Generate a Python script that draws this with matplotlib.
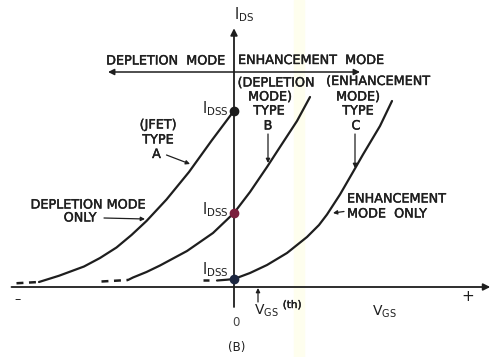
import matplotlib.pyplot as plt
import matplotlib.patheffects as pe

plt.rcParams['font.family'] = 'DejaVu Sans'
plt.rcParams['lines.scale_dashes'] = False

# drain current vs gate voltage, arbitrary units (0,0 = origin of the axes)
# type A - JFET, depletion mode only
a_vgs = [-7.8, -7.0, -6.0, -5.36, -4.7, -4.1, -3.5, -2.7, -1.8, -0.9, 0.0]
a_ids = [0.2, 0.45, 0.82, 1.16, 1.58, 2.08, 2.64, 3.5, 4.6, 5.85, 7.05]
a_tail_vgs = [-8.7, -7.8]
a_tail_ids = [0.15, 0.2]

# type B - depletion/enhancement MOSFET
b_vgs = [-4.24, -4.04, -3.5, -2.96, -1.88, -0.84, 0.0, 0.64, 1.32, 1.84, 2.52, 3.04]
b_ids = [0.28, 0.38, 0.6, 0.86, 1.44, 2.16, 2.96, 3.8, 4.8, 5.6, 6.64, 7.6]
b_tail_vgs = [-5.3, -4.24]
b_tail_ids = [0.22, 0.28]

# type C - enhancement mode only
c_vgs = [-0.68, -0.3, 0.0, 0.64, 1.32, 2.12, 2.92, 3.4, 3.72, 4.24, 4.76, 5.16, 5.84, 6.32]
c_ids = [0.26, 0.29, 0.32, 0.56, 0.88, 1.36, 2.0, 2.48, 2.9, 3.7, 4.6, 5.3, 6.44, 7.44]
c_tail_vgs = [-1.26, -1.02]
c_tail_ids = [0.27, 0.27]

# I_DSS points where each curve crosses V_GS = 0
idss_vgs = [0.0, 0.0, 0.0]
idss_ids = [7.05, 2.96, 0.32]
idss_colors = ['#1c1c1c', '#7a1f3d', '#1c2640']

ink = '#1e1e1e'

fig = plt.figure(figsize=(4.97, 3.57), dpi=100)
ax = fig.add_axes([0, 0, 1, 1])
ax.set_xlim(-9.36, 10.52)
ax.set_ylim(-2.8, 11.48)
ax.axis('off')

# faint scanner streak
ax.axvspan(2.4, 2.8, color='#fefeee', zorder=0)

arrow_kw = dict(arrowstyle='-|>', color=ink, lw=0.9, mutation_scale=6, shrinkA=0, shrinkB=0)

# axes with arrow heads
ax.annotate('', xy=(10.25, 0), xytext=(-8.9, 0),
            arrowprops=dict(arrowstyle='-|>', color=ink, lw=1.3,
                            mutation_scale=10, shrinkA=0, shrinkB=0))
ax.annotate('', xy=(0, 10.35), xytext=(0, -0.8),
            arrowprops=dict(arrowstyle='-|>', color=ink, lw=1.3,
                            mutation_scale=10, shrinkA=0, shrinkB=0))

# depletion / enhancement double arrow
ax.annotate('', xy=(5.04, 8.6), xytext=(-5.04, 8.6),
            arrowprops=dict(arrowstyle='<|-|>', color=ink, lw=1.1,
                            mutation_scale=9, shrinkA=0, shrinkB=0))

# curves
for v, i in [(a_vgs, a_ids), (b_vgs, b_ids), (c_vgs, c_ids)]:
    ax.plot(v, i, color=ink, lw=1.6, solid_capstyle='round', solid_joinstyle='round')
for v, i in [(a_tail_vgs, a_tail_ids), (b_tail_vgs, b_tail_ids), (c_tail_vgs, c_tail_ids)]:
    ax.plot(v, i, color=ink, lw=1.8, linestyle=(0, (5, 4)))

for v, i, col in zip(idss_vgs, idss_ids, idss_colors):
    ax.plot(v, i, 'o', color=col, ms=6, zorder=5)

# lettering: regular face thickened slightly
heavy = [pe.withStroke(linewidth=0.3, foreground=ink)]
fs = 9.2
txt = dict(color=ink, fontsize=fs, ha='center', va='center', path_effects=heavy)
txt_l = dict(color=ink, fontsize=fs, ha='left', va='center', path_effects=heavy)

ax.text(0.4, 10.88, r'$\mathregular{I_{DS}}$', color=ink, fontsize=10.5, ha='center', va='center')
ax.text(-0.36, 9.04, 'DEPLETION  MODE', color=ink, fontsize=fs, ha='right', va='center',
        path_effects=heavy)
ax.text(0.16, 9.06, 'ENHANCEMENT  MODE', **txt_l)

# I_DSS labels
idss_label_y = [7.12, 3.08, 0.7]
for y in idss_label_y:
    ax.text(-0.22, y, r'$\mathregular{I_{DSS}}$', color=ink, fontsize=10.5,
            ha='right', va='center')

# type A
ax.text(-3.04, 6.48, '(JFET)', **txt)
ax.text(-3.04, 5.88, 'TYPE', **txt)
ax.text(-3.1, 5.3, 'A', **txt)
ax.annotate('', xy=(-1.76, 4.92), xytext=(-2.7, 5.28), arrowprops=arrow_kw)

# type B
ax.text(1.68, 8.16, '(DEPLETION', **txt)
ax.text(1.44, 7.6, 'MODE)', **txt)
ax.text(1.4, 7.04, 'TYPE', **txt)
ax.text(1.36, 6.44, 'B', **txt)
ax.annotate('', xy=(1.36, 4.96), xytext=(1.36, 6.12), arrowprops=arrow_kw)

# type C
ax.text(5.76, 8.22, '(ENHANCEMENT', **txt)
ax.text(4.96, 7.6, 'MODE)', **txt)
ax.text(4.96, 7.04, 'TYPE', **txt)
ax.text(4.88, 6.44, 'C', **txt)
ax.annotate('', xy=(4.84, 4.76), xytext=(4.84, 6.12), arrowprops=arrow_kw)

# notes beside the outer curves
ax.text(-5.84, 3.28, 'DEPLETION MODE', **txt)
ax.text(-6.16, 2.76, 'ONLY', **txt)
ax.annotate('', xy=(-3.56, 2.72), xytext=(-5.2, 2.76), arrowprops=arrow_kw)
ax.text(4.52, 3.52, 'ENHANCEMENT', **txt_l)
ax.text(4.52, 2.92, 'MODE  ONLY', **txt_l)
ax.annotate('', xy=(3.96, 2.96), xytext=(4.4, 3.02), arrowprops=arrow_kw)

# V_GS axis labels
ax.annotate('', xy=(0.96, -0.04), xytext=(0.96, -0.6), arrowprops=arrow_kw)
ax.text(0.8, -0.95, r'$\mathregular{V_{GS}}$', color=ink, fontsize=10, ha='left', va='center')
ax.text(1.95, -0.72, '(th)', color=ink, fontsize=7.5, ha='left', va='center', path_effects=heavy)
ax.text(6.0, -1.0, r'$\mathregular{V_{GS}}$', color=ink, fontsize=10, ha='center', va='center')
ax.text(9.36, -0.38, '+', color=ink, fontsize=11, ha='center', va='center')
ax.text(-8.64, -0.5, '\u2013', color=ink, fontsize=9, ha='center', va='center')
ax.text(0.08, -1.4, '0', color='#444444', fontsize=8.5, ha='center', va='center')
ax.text(0.12, -2.44, '(B)', color=ink, fontsize=8.5, ha='center', va='center')

fig.savefig('out.png', dpi=100)
